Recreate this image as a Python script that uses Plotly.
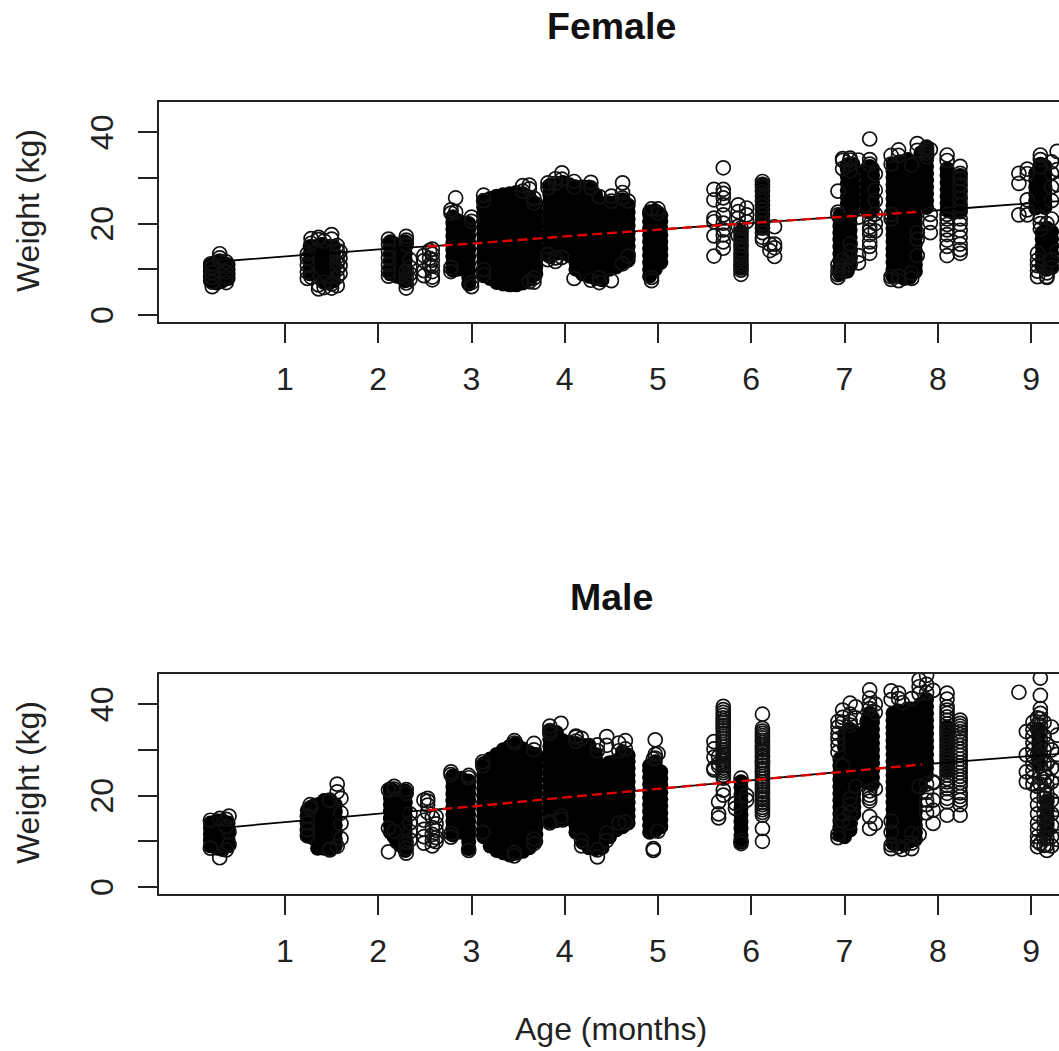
import plotly.graph_objects as go

# Tick and text content
x_ticks = [1, 2, 3, 4, 5, 6, 7, 8, 9]
y_ticks = [0, 10, 20, 30, 40]
y_tick_text = ["0", "", "20", "", "40"]
panel_titles = ["Female", "Male"]
x_label = "Age (months)"
y_label = "Weight (kg)"

# Trend lines
line_age = [0.3, 0.48, 1.18, 1.66, 2.04, 2.53, 3.0, 4.0, 5.05, 5.7, 6.92, 7.83, 8.31, 8.88, 9.35]
f_line_weight = [11.7, 12.0, 13.1, 13.8, 14.4, 15.0, 15.6, 17.2, 18.8, 19.7, 21.4, 22.6, 23.4, 24.3, 25.0]
m_line_weight = [12.9, 13.2, 14.5, 15.4, 16.1, 16.8, 17.6, 19.6, 21.6, 22.9, 25.1, 26.8, 27.6, 28.5, 29.2]
fit_age = [2.53, 3.0, 4.0, 5.05, 5.7, 6.92, 7.83]
f_fit_weight = [15.0, 15.6, 17.2, 18.8, 19.7, 21.4, 22.6]
m_fit_weight = [16.8, 17.6, 19.6, 21.6, 22.9, 25.1, 26.8]

# Female: heavily overplotted mass, one weight list per age column
f_core_age = [0.2, 0.27, 0.33, 0.39, 1.27, 1.33, 1.4, 1.47, 1.52, 2.13, 2.17, 2.2, 2.25, 2.29, 2.8, 2.85, 2.89, 2.97,
              3.13, 3.2, 3.27, 3.34, 3.41, 3.48, 3.55, 3.62, 3.69,
              3.84, 3.91, 3.98, 4.05, 4.12, 4.19, 4.26, 4.33, 4.4,
              4.48, 4.55, 4.62, 4.68, 4.91, 4.97, 5.03, 5.89, 6.12,
              6.95, 7.0, 7.06, 7.03, 7.09, 7.06, 7.24, 7.27, 7.3, 7.52, 7.58, 7.64, 7.7, 7.76,
              7.52, 7.58, 7.6, 7.68, 7.76, 7.82, 7.88, 8.1, 8.17, 8.24, 9.05, 9.1, 9.15, 9.12, 9.17, 9.22, 7.03]
f_core_weight = [
    [7.5, 8.5, 9.5, 10.5, 11.2], [7, 8, 9, 10, 11, 11.6], [7.5, 8.5, 9.5, 10.5, 11.5], [8, 9, 10, 11],
    [9, 10.5, 12, 13.5, 15], [9, 10.5, 12, 13.5, 15], [7.5, 9, 10.5, 12, 13.5, 15.5], [7, 8.5, 10, 11.5, 13, 15], [7.5, 9, 10.5, 12, 13.5, 15],
    [9, 10.5, 12, 13.5, 15, 16], [9, 10.4, 11.8, 13.2, 14.6, 15.6], [8.5, 10, 11.5, 13, 14.5], [8.2, 9.7, 11.2, 12.7, 14.2, 15.4], [7.5, 9, 10.5, 12, 13.5, 15, 16],
    [9.8, 11.3, 12.8, 14.3, 15.8, 17.3, 18.8, 20.2, 21.5], [10, 11.5, 13, 14.5, 16, 17.5, 19, 20.6], [10.2, 11.7, 13.2, 14.7, 16.2, 17.7, 19.2, 20.3],
    [6.8, 8.3, 9.8, 11.3, 12.8, 14.3, 15.8, 17.3, 18.8, 20],
    [8.6, 10.1, 11.6, 13.1, 14.6, 16.1, 17.6, 19.1, 20.6, 22.1, 23.6, 25],
    [8, 9.5, 11, 12.5, 14, 15.5, 17, 18.5, 20, 21.5, 23, 24.5, 25.5],
    [7.1, 8.6, 10.1, 11.6, 13.1, 14.6, 16.1, 17.6, 19.1, 20.6, 22.1, 23.6, 25.1, 26],
    [6.8, 8.3, 9.8, 11.3, 12.8, 14.3, 15.8, 17.3, 18.8, 20.3, 21.8, 23.3, 24.8, 26.3],
    [6.6, 8.1, 9.6, 11.1, 12.6, 14.1, 15.6, 17.1, 18.6, 20.1, 21.6, 23.1, 24.6, 26.1, 26.5],
    [6.6, 8.1, 9.6, 11.1, 12.6, 14.1, 15.6, 17.1, 18.6, 20.1, 21.6, 23.1, 24.6, 26.1, 26.8],
    [7, 8.5, 10, 11.5, 13, 14.5, 16, 17.5, 19, 20.5, 22, 23.5, 25, 26.5],
    [7.8, 9.3, 10.8, 12.3, 13.8, 15.3, 16.8, 18.3, 19.8, 21.3, 22.8, 24.3, 25.8],
    [9, 10.5, 12, 13.5, 15, 16.5, 18, 19.5, 21, 22.5, 24.3],
    [12.8, 14.3, 15.8, 17.3, 18.8, 20.3, 21.8, 23.3, 24.8, 26.3, 27.8, 28.3],
    [13.5, 15, 16.5, 18, 19.5, 21, 22.5, 24, 25.5, 27, 28.4],
    [13.5, 15, 16.5, 18, 19.5, 21, 22.5, 24, 25.5, 27, 28.5, 29],
    [13, 14.5, 16, 17.5, 19, 20.5, 22, 23.5, 25, 26.5, 28, 28.5],
    [10, 11.5, 13, 14.5, 16, 17.5, 19, 20.5, 22, 23.5, 25, 26.5, 28],
    [9, 10.5, 12, 13.5, 15, 16.5, 18, 19.5, 21, 22.5, 24, 25.5, 27, 28],
    [8.5, 10, 11.5, 13, 14.5, 16, 17.5, 19, 20.5, 22, 23.5, 25, 26.5, 28],
    [8, 9.5, 11, 12.5, 14, 15.5, 17, 18.5, 20, 21.5, 23, 24.5, 26.3],
    [7.7, 9.2, 10.7, 12.2, 13.7, 15.2, 16.7, 18.2, 19.7, 21.2, 22.7, 24.4],
    [10, 11.5, 13, 14.5, 16, 17.5, 19, 20.5, 22, 23.5, 24.5], [10.5, 12, 13.5, 15, 16.5, 18, 19.5, 21, 22.5, 24, 24.6],
    [11.5, 13, 14.5, 16, 17.5, 19, 20.5, 22, 23.5, 25.2], [12, 13.5, 15, 16.5, 18, 19.5, 21, 22.5, 24],
    [8.5, 10, 11.5, 13, 14.5, 16, 17.5, 19, 20.5, 22, 22.6], [10, 11.5, 13, 14.5, 16, 17.5, 19, 20.5, 22, 22.8],
    [11.5, 13, 14.5, 16, 17.5, 19, 20.5, 21.8],
    [10.2, 11.8, 13.4, 15, 16.6, 18.2], [19.2, 20.8, 22.4, 24, 25.6, 27.2, 28.6],
    [9, 10.5, 12, 13.5, 15, 16.5, 18, 19.5, 21, 21.8], [9.5, 11, 12.5, 14, 15.5, 17, 18.5, 20, 21.4], [11, 12.5, 14, 15.5, 17, 18.5, 20, 21.5],
    [22.8, 24.3, 25.8, 27.3, 28.8, 30.3, 31.8, 32.8], [22.6, 24.1, 25.6, 27.1, 28.6, 30.1, 31.6, 33], [23, 24.5, 26, 27.5, 29, 30.5, 32],
    [23, 24.5, 26, 27.5, 29, 30.5, 32], [22.5, 24, 25.5, 27, 28.5, 30, 31.5, 32.5], [23, 24.5, 26, 27.5, 29, 30.5, 32],
    [8.5, 10, 11.5, 13, 14.5, 16, 17.5, 19, 20.5], [9, 10.5, 12, 13.5, 15, 16.5, 18, 19.5, 21],
    [8, 9.5, 11, 12.5, 14, 15.5, 17, 18.5, 20, 21.5], [8.2, 9.7, 11.2, 12.7, 14.2, 15.7, 17.2, 18.7, 20.2],
    [9.5, 11, 12.5, 14, 15.5, 17, 18.5, 20, 21.5],
    [22.5, 24, 25.5, 27, 28.5, 30, 31.5, 33], [22.6, 24.1, 25.6, 27.1, 28.6, 30.1, 31.6, 33.4],
    [23, 24.5, 26, 27.5, 29, 30.5, 32, 33.5], [23.5, 25, 26.5, 28, 29.5, 31, 32.5, 34], [22.8, 24.3, 25.8, 27.3, 28.8, 30.3, 31.8, 33.3],
    [24, 25.5, 27, 28.5, 30, 31.5, 33, 34.5, 35.5], [23.5, 25, 26.5, 28, 29.5, 31, 32.5, 34, 35.5, 36.5],
    [23, 24.5, 26, 27.5, 29, 30.5, 32], [22.5, 24, 25.5, 27, 28.5, 30], [23, 24.5, 26, 27.5, 29, 30.5],
    [23.4, 25, 26.5, 28, 29.5, 31], [24, 25.5, 27, 28.5, 30, 31.5, 33], [23.5, 25, 26.5, 28, 29.5, 31, 32.5],
    [10.5, 12, 13.5, 15, 16.5, 18], [10, 11.5, 13, 14.5, 16, 17.5, 19], [10.4, 12, 13.4, 15, 16.6, 18.2],
    [9.6, 11.1, 12.6, 14.1, 15.6, 17.1, 18.6, 20.1, 21.4],
]

# Female: individually visible open circles
f_ring_age = [0.22, 0.3, 0.37, 1.24, 1.28, 1.36, 1.42, 1.5, 1.56, 1.59, 2.11, 2.3, 2.34,
              2.49, 2.55, 2.58, 2.78, 2.83, 3.0, 3.13, 3.67, 3.55, 3.62, 3.82, 3.9, 3.97, 4.1, 4.28, 4.37,
              4.5, 4.62, 4.68, 4.93, 5.0, 5.6, 5.7, 5.86, 5.89, 5.95, 6.12, 6.2, 6.25,
              6.93, 6.98, 7.06, 7.15, 7.27, 7.33, 7.5, 7.58, 7.72, 7.78, 7.88, 7.92, 8.1, 8.24,
              8.87, 8.96, 9.07, 9.1, 9.17, 9.22, 9.28]
f_ring_weight = [
    [6.2, 7.2, 8.2, 9.3, 10.4, 11.2], [13.4, 12.5, 11.8], [7.1, 8.2, 9.4, 10.6, 11.6],
    [8, 9.4, 10.9, 12.4, 13.4], [15.7, 16.7, 8.3], [5.7, 6.6, 16.5, 17], [6, 7.2, 16.2], [5.9, 6.8, 17.6, 16.6], [6.4, 8.3, 9.9, 11.4, 12.7, 14, 15.2], [9.1, 10.8, 12.4, 13.9],
    [8.5, 9.6, 11, 12.5, 14, 15.5, 16.6], [5.9, 7, 8.2, 9.6, 15.4, 16.4, 17.2], [7.8, 9, 10.4, 12.1],
    [8.6, 9.7, 11.9, 13], [14.1, 12.4, 10.8], [7.7, 8.3, 9.5, 10.7, 12, 13.3, 14.4],
    [9.5, 10.4, 22.3, 23], [25.6, 22.5], [6.2, 7.1, 21.4, 20.5], [26.2, 25, 9.9, 8.8], [7.2, 8.1, 24.5, 25.5], [28.3, 27.1], [28.4, 27.6, 7.3], [28.9, 27.8, 12.1, 13.2], [29.8, 28.8, 11.7, 12.5], [31.1, 29.7, 12.6], [8, 29.2, 28], [29, 27.8, 7.6], [7.1, 8.1, 25.9],
    [26, 24.9, 7.5], [28.9, 26.8, 25.6, 11.2], [24.9, 12.9], [8.2, 7.5, 23.2], [23.2, 22.3],
    [27.5, 25.2, 21.2, 20.4, 17.3, 12.9], [32.2, 27.5, 26.6, 25.6, 24.1, 21.9, 20.1, 18.6, 17.5, 16, 14.6],
    [24.1, 22.6, 21.2, 19.4, 17.4], [19, 18, 17.2, 16.2, 15.2, 14.2, 13.1, 12.3, 11.2, 10.6, 9.8, 8.9], [23.4, 21.9, 20.4],
    [29.2, 28.6, 28, 27, 26, 25, 24, 23, 22, 21, 20, 19, 18, 17, 16.4], [14.1, 15.5], [19.3, 15.5, 12.8, 14.7],
    [8.2, 8.8, 9.8, 11, 21.9, 22.5, 27.1], [32, 33.8, 34.2, 9.8, 10.6, 12], [33.9, 34.3, 33, 31.5, 11, 12.6, 14.1, 15.6], [33.9, 21.4, 11.4, 13],
    [38.5, 34, 33, 21, 19.2, 17.6, 16, 13.5, 15, 18.5], [30.9, 27.3, 25, 22.1, 20, 18.4],
    [34.9, 33, 22, 21, 8.4, 7.8], [36.1, 34.9, 7.5, 8.5], [32.8, 9.2, 8], [37.5, 36, 16.6, 13, 18], [36.7, 36, 35.4, 34.6],
    [18, 20.2, 36.2, 22], [35, 33.8, 22, 21, 19.8, 18.6, 17.6, 16.4, 15, 13],
    [32.5, 31, 29.8, 28.4, 27, 25.5, 24, 22.6, 21, 19.9, 18.5, 17, 15.5, 14.3, 13.5],
    [28.8, 21.9, 31], [31.9, 30.9, 21.9, 23, 25.2], [13.5, 12, 10.8, 9.6, 8.4], [35, 34, 32.4, 21.4, 20, 18.8], [20, 9.2, 8.2, 8.4], [33.5, 31, 28, 25, 21, 12.1, 10.4], [35.8, 31.8, 28.5, 14],
]

# Male: heavily overplotted mass, one weight list per age column
m_core_age = [0.2, 0.27, 0.33, 0.39, 1.28, 1.35, 1.42, 1.49, 1.54, 2.13, 2.17, 2.2, 2.25, 2.29, 2.8, 2.89, 2.97,
              3.13, 3.2, 3.27, 3.34, 3.41, 3.48, 3.55, 3.62, 3.69,
              3.84, 3.91, 3.98, 4.05, 4.12, 4.19, 4.26, 4.33, 4.4,
              4.48, 4.55, 4.62, 4.68, 4.91, 4.97, 5.03,
              5.89, 6.95, 7.0, 7.06, 7.1, 7.24, 7.27, 7.3, 7.52, 7.58, 7.64, 7.7, 7.76, 7.82, 7.88, 8.1, 9.08, 9.17, 1.24, 1.31]
m_core_weight = [
    [9, 10.3, 11.6, 12.9, 14], [8.5, 9.8, 11.1, 12.4, 13.7, 14.5], [8.2, 9.5, 10.8, 12.1, 13.4, 14.5], [9, 10.3, 11.6, 12.9, 14],
    [11, 12.5, 14, 15.5, 17], [8.5, 10.4, 12, 13.5, 15, 16.5, 18], [8.5, 10, 11.5, 13, 14.5, 16, 17.5, 18.9], [8.2, 9.7, 11.2, 12.7, 14.2, 15.7, 17.2, 18.7], [9, 10.5, 12, 13.5, 15, 16.5, 18],
    [12, 13.5, 15, 16.5, 18, 19.5, 21, 21.5], [11, 12.5, 14, 15.5, 17, 18.5, 20, 21], [9.8, 11.3, 12.8, 14.3, 15.8, 17.3, 18.8, 20.3], [9, 10.5, 12, 13.5, 15, 16.5, 18, 19.5], [8, 9.5, 11, 12.5, 14, 15.5, 17, 18.5, 20, 21],
    [11.4, 12.9, 14.4, 15.9, 17.4, 18.9, 20.4, 21.9, 23.4, 24.3], [12, 13.5, 15, 16.5, 18, 19.5, 21, 22.5, 23.8],
    [8.4, 9.9, 11.4, 12.9, 14.4, 15.9, 17.4, 18.9, 20.4, 21.9, 23.2],
    [11, 12.5, 14, 15.5, 17, 18.5, 20, 21.5, 23, 24.5, 26, 27],
    [9, 10.5, 12, 13.5, 15, 16.5, 18, 19.5, 21, 22.5, 24, 25.5, 27, 28],
    [8, 9.5, 11, 12.5, 14, 15.5, 17, 18.5, 20, 21.5, 23, 24.5, 26, 27.5, 29],
    [7.5, 9, 10.5, 12, 13.5, 15, 16.5, 18, 19.5, 21, 22.5, 24, 25.5, 27, 28.5, 30],
    [7, 8.5, 10, 11.5, 13, 14.5, 16, 17.5, 19, 20.5, 22, 23.5, 25, 26.5, 28, 29.5, 30.8],
    [7.4, 8.9, 10.4, 11.9, 13.4, 14.9, 16.4, 17.9, 19.4, 20.9, 22.4, 23.9, 25.4, 26.9, 28.4, 29.9, 31.4],
    [7.8, 9.3, 10.8, 12.3, 13.8, 15.3, 16.8, 18.3, 19.8, 21.3, 22.8, 24.3, 25.8, 27.3, 28.8, 30.2],
    [8.6, 10.1, 11.6, 13.1, 14.6, 16.1, 17.6, 19.1, 20.6, 22.1, 23.6, 25.1, 26.6, 28.1, 29.4],
    [10, 11.5, 13, 14.5, 16, 17.5, 19, 20.5, 22, 23.5, 25, 26.5, 28, 29],
    [14.3, 15.8, 17.3, 18.8, 20.3, 21.8, 23.3, 24.8, 26.3, 27.8, 29.3, 30.8, 32.3, 34],
    [14.5, 16, 17.5, 19, 20.5, 22, 23.5, 25, 26.5, 28, 29.5, 31, 32.5, 33.8],
    [14.6, 16.1, 17.6, 19.1, 20.6, 22.1, 23.6, 25.1, 26.6, 28.1, 29.6, 31.1, 32],
    [15, 16.5, 18, 19.5, 21, 22.5, 24, 25.5, 27, 28.5, 30, 31.6],
    [12, 13.5, 15, 16.5, 18, 19.5, 21, 22.5, 24, 25.5, 27, 28.5, 30, 31.4],
    [9.8, 11.3, 12.8, 14.3, 15.8, 17.3, 18.8, 20.3, 21.8, 23.3, 24.8, 26.3, 27.8, 29.3, 31],
    [8.6, 10.1, 11.6, 13.1, 14.6, 16.1, 17.6, 19.1, 20.6, 22.1, 23.6, 25.1, 26.6, 28.1, 29.6, 31],
    [8.4, 9.9, 11.4, 12.9, 14.4, 15.9, 17.4, 18.9, 20.4, 21.9, 23.4, 24.9, 26.4, 27.9, 29],
    [8.6, 10.1, 11.6, 13.1, 14.6, 16.1, 17.6, 19.1, 20.6, 22.1, 23.6, 25.1, 26.4],
    [11, 12.5, 14, 15.5, 17, 18.5, 20, 21.5, 23, 24.5, 26, 27.2], [12.5, 14, 15.5, 17, 18.5, 20, 21.5, 23, 24.5, 26, 27.6],
    [13.2, 14.7, 16.2, 17.7, 19.2, 20.7, 22.2, 23.7, 25.2, 26.7, 28.2, 29.6], [14, 15.5, 17, 18.5, 20, 21.5, 23, 24.5, 26, 27.5, 28.8],
    [12, 13.5, 15, 16.5, 18, 19.5, 21, 22.5, 24, 25.5, 26.5], [12.3, 13.8, 15.3, 16.8, 18.3, 19.8, 21.3, 22.8, 24.3, 25.8, 27.4],
    [13.2, 14.7, 16.2, 17.7, 19.2, 20.7, 22.2, 23.7, 25.2],
    [9.8, 11.3, 12.8, 14.3, 15.8, 17.3, 18.8, 20.3, 21.8, 23],
    [11.5, 13, 14.5, 16, 17.5, 19, 20.5, 22, 23.5, 25, 26.5, 28], [11, 12.5, 14, 15.5, 17, 18.5, 20, 21.5, 23, 24.5, 26, 27.5, 29, 30.5, 32, 33.5],
    [12.5, 14, 15.5, 17, 18.5, 20, 21.5, 23, 24.5, 26, 27.5, 29, 30.5, 32, 33.5, 34.5], [16, 17.5, 19, 20.5, 22, 23.5, 25, 26.5, 28, 29.5, 31, 32.5, 34],
    [22.8, 24.3, 25.8, 27.3, 28.8, 30.3, 31.8, 33.3, 34.8, 36.3], [23, 24.5, 26, 27.5, 29, 30.5, 32, 33.5, 35, 36.5, 38], [22.5, 24, 25.5, 27, 28.5, 30, 31.5, 33, 34.5, 36, 37],
    [9.5, 11, 12.5, 14, 15.5, 17, 18.5, 20, 21.5, 23, 24.5, 26, 27.5, 29, 30.5, 32, 33.5, 35, 36.5, 38],
    [9.5, 11, 12.5, 14, 15.5, 17, 18.5, 20, 21.5, 23, 24.5, 26, 27.5, 29, 30.5, 32, 33.5, 35, 36.5, 38.5],
    [9.2, 10.7, 12.2, 13.7, 15.2, 16.7, 18.2, 19.7, 21.2, 22.7, 24.2, 25.7, 27.2, 28.7, 30.2, 31.7, 33.2, 34.7, 36.2, 38],
    [10, 11.5, 13, 14.5, 16, 17.5, 19, 20.5, 22, 23.5, 25, 26.5, 28, 29.5, 31, 32.5, 34, 35.5, 37, 39],
    [10.4, 11.9, 13.4, 14.9, 16.4, 17.9, 19.4, 20.9, 22.4, 23.9, 25.4, 26.9, 28.4, 29.9, 31.4, 32.9, 34.4, 35.9, 37.4, 39],
    [22, 23.5, 25, 26.5, 28, 29.5, 31, 32.5, 34, 35.5, 37, 38.5, 40], [24.5, 26, 27.5, 29, 30.5, 32, 33.5, 35, 36.5, 38, 39.5, 41],
    [25.5, 27.2, 28.8, 30.4, 32, 33.5, 35], [27, 28.5, 30, 31.5, 33, 34.5], [12.5, 14, 15.5, 17, 18.5],
    [11.2, 12.6, 14, 15.4, 16.8], [10.6, 12, 13.5, 15, 16.5, 17.8],
]

# Male: individually visible open circles
m_ring_age = [0.2, 0.3, 0.37, 0.4, 1.24, 1.27, 1.48, 1.56, 1.6, 2.11, 2.17, 2.3, 2.34,
              2.49, 2.53, 2.58, 2.62, 2.78, 2.97, 3.12, 3.46, 3.67, 3.84, 3.96, 4.12, 4.18, 4.35, 4.45,
              4.58, 4.65, 4.95, 4.97, 5.0, 5.6, 5.65, 5.7, 5.83, 5.89, 5.95, 6.12,
              6.93, 6.98, 7.06, 7.12, 7.27, 7.33, 7.5, 7.58, 7.62, 7.72, 7.8, 7.88, 7.95, 8.1, 8.24,
              8.87, 8.95, 9.02, 9.07, 9.1, 9.14, 9.17, 9.22, 9.28]
m_ring_weight = [
    [8.5, 14.6], [6.4, 15], [8.1, 14.8, 13.2], [15.5, 9.3, 12],
    [11.2, 12.5, 14, 15.5], [17.3, 18], [8.1, 8.3, 19], [22.5, 20.8, 8.9], [19.4, 13.9, 10.6, 16.2],
    [7.7, 12.9, 21.2], [21.4, 22, 12.2], [7.4, 8.5, 9.8, 21.3, 20.5], [10.3, 12.1, 14, 16],
    [9.6, 11, 12.6, 14.6, 19], [19.4, 17.9, 18.8, 16.3], [9, 10.2, 11.5, 13, 15.2], [9.9, 10.8, 12.4, 13.8, 15.4],
    [25.2, 24.6, 10.9, 11.7], [8, 24.4, 23.9], [27.4, 26.5, 12], [6.8, 7.5, 32, 31.5], [31.4, 9.5, 10.5, 30],
    [35.2, 34.2, 33.6, 14.3, 14], [35.8, 14.8, 15.5], [33, 32.8, 31.9], [32.5, 10.2, 9], [6.6, 8.1, 31.1, 29.8], [32.9, 31, 11.8, 10.2], [31.5, 29.8, 14], [32, 30.2, 14.2],
    [8.4, 8, 28], [32.2, 29, 28.2], [29.2, 12.2], [31.8, 30.2, 28.4, 26, 25.6], [27, 28.5, 26.4, 18.6, 15.1, 16],
    [39.5, 38.8, 38.2, 37.6, 37, 36.4, 35.9, 35.3, 34.8, 34.2, 33.6, 33, 32.4, 31.8, 31.2, 30.6, 30, 29.5, 29, 28.5, 28, 27.5, 27, 26.5, 26, 25.5, 25, 24.4, 23.8, 21.2, 20.1],
    [18.3, 17.2], [23.8, 9.5, 10.2], [19, 20],
    [37.8, 34.7, 34.1, 33.6, 33.1, 32.6, 32.1, 31.6, 31, 30.5, 30, 29.4, 28.8, 28.3, 27.7, 27.2, 26.6, 26, 25.4, 24.8, 24.2, 23.6, 23, 22.5, 22, 21.4, 20.8, 20.2, 19.6, 19.1, 18.5, 18, 17.4, 16.9, 16.3, 15.7, 12.8, 10],
    [36.2, 35, 33.6, 32.4, 31, 29.5, 10.8, 11.6], [38.7, 37.1, 36, 26.5, 16, 14.5], [40.2, 36.2, 37.8, 35.4, 14, 16.2, 18, 19.4], [39.4, 37, 22],
    [43.1, 41.3, 40, 39, 21, 20.1, 19.4, 15.4, 12.8, 18.8], [13.9, 40, 38.2, 21.5],
    [42.9, 41, 8.4, 9.2, 14.4, 12], [42.4, 41.2, 8.8], [40.3, 8.2], [8.4, 9.6, 41.2, 11.7], [45.3, 43.8, 42.3, 22, 11.5], [46.3, 44.3, 42.5, 22.5, 20.7, 19, 16.2, 18], [43, 23, 19, 13.9, 16.8, 22.8],
    [42.4, 41.1, 39.4, 38.7, 38, 37.2, 36.5, 35.7, 35, 34.2, 33.5, 32.7, 32, 31.2, 30.5, 29.7, 29, 28.2, 27.5, 26.7, 26, 25.2, 24.5, 23.7, 23, 22.2, 21.5, 20.5, 19.4, 18.6, 15.7],
    [36.5, 35.8, 35.2, 34.6, 34, 33.3, 32.6, 31.8, 31, 30.2, 29.5, 28.8, 28, 27.2, 26.5, 25.8, 25, 24.2, 23.5, 22.8, 22, 20.6, 19.8, 15.7, 19, 18],
    [42.6], [28.9, 34, 25.2, 23], [36, 34.5, 33, 31.5, 30, 28.6, 27, 25.5, 24, 22.5], [22, 20, 18, 16, 14, 12.6, 11, 8.8, 10, 34.5, 37, 35.5, 29],
    [45.7, 41.9, 39, 38, 36.8, 35.4, 34, 32.5, 31, 29.5, 28, 26.5, 24, 22.5, 9.5], [9.1, 10.8, 12.5, 14.5, 16.2, 18, 19.5, 21, 23, 25, 27, 30, 33, 36],
    [8, 9.2, 10.6, 12, 13.6, 15.2, 17, 18.8, 20.5, 22.2, 31.2, 27, 24], [9, 11, 13.5, 16, 19, 23, 26, 30, 35], [10.4, 14, 18, 21, 25.5, 29, 33.2],
]


def flatten(ages, weights):
    xs, ys = [], []
    for age, column in zip(ages, weights):
        xs.extend([age] * len(column))
        ys.extend(column)
    return xs, ys


INK = "#111111"
fig = go.Figure()
panels = [
    ("", "", f_core_age, f_core_weight, f_ring_age, f_ring_weight, f_line_weight, f_fit_weight),
    ("2", "2", m_core_age, m_core_weight, m_ring_age, m_ring_weight, m_line_weight, m_fit_weight),
]
for xs, ys, core_age, core_w, ring_age, ring_w, line_w, fit_w in panels:
    xa, ya = "x" + xs, "y" + ys
    cx, cy = flatten(core_age, core_w)
    fig.add_trace(go.Scatter(x=cx, y=cy, xaxis=xa, yaxis=ya, mode="markers", showlegend=False,
                             marker=dict(symbol="circle", size=15, color="black", line=dict(width=0))))
    rx, ry = flatten(ring_age, ring_w)
    fig.add_trace(go.Scatter(x=rx, y=ry, xaxis=xa, yaxis=ya, mode="markers", showlegend=False,
                             marker=dict(symbol="circle-open", size=14, color=INK, line=dict(width=1.7, color=INK))))
    fig.add_trace(go.Scatter(x=line_age, y=line_w, xaxis=xa, yaxis=ya, mode="lines", showlegend=False,
                             line=dict(color="black", width=1.8)))
    fig.add_trace(go.Scatter(x=fit_age, y=fit_w, xaxis=xa, yaxis=ya, mode="lines", showlegend=False,
                             line=dict(color="#e00000", width=2.4, dash="10px,5px")))

H = 1051
W = 1059
label_font = dict(family="Liberation Sans", size=32, color="#222222")
title_font = dict(family="Liberation Sans", size=37.5, color="#111111", weight="bold")

xaxis_style = dict(range=[-0.351, 9.30], tickmode="array", tickvals=x_ticks, ticktext=[str(t) for t in x_ticks],
                   ticks="outside", ticklen=19, tickwidth=1.6, tickcolor="#222222", showgrid=False, zeroline=False,
                   showline=True, linecolor="#222222", linewidth=1.6, mirror=True, tickfont=label_font,
                   ticklabelstandoff=9)
yaxis_style = dict(range=[-1.53, 46.7], tickmode="array", tickvals=y_ticks, showticklabels=False,
                   ticks="outside", ticklen=19, tickwidth=1.6, tickcolor="#222222", showgrid=False, zeroline=False,
                   showline=True, linecolor="#222222", linewidth=1.6)

fig.update_layout(
    width=W, height=H, margin=dict(l=159, r=0, t=0, b=0, pad=0), paper_bgcolor="white", plot_bgcolor="white",
    showlegend=False,
    xaxis=dict(domain=[0, 1], anchor="y", **xaxis_style),
    yaxis=dict(domain=[1 - 322 / H, 1 - 101.5 / H], anchor="x", **yaxis_style),
    xaxis2=dict(domain=[0, 1], anchor="y2", **xaxis_style),
    yaxis2=dict(domain=[1 - 894 / H, 1 - 673.5 / H], anchor="x2", **yaxis_style),
)


# paper coordinates span the plotting domain, so convert from the page through the left margin
def page_x(px):
    return (px - 159) / (W - 159)


def note(text, px, py, font, angle=0):
    fig.add_annotation(text=text, x=page_x(px), y=1 - py / H, xref="paper", yref="paper", showarrow=False,
                       font=font, textangle=angle, xanchor="center", yanchor="middle")


note(panel_titles[0], 611, 26, title_font)
note(panel_titles[1], 611, 597, title_font)
note(x_label, 611, 1029, label_font)
note(y_label, 28, 211, label_font, -90)
note(y_label, 28, 783, label_font, -90)

# Rotated weight tick labels, centred on their ticks through each panel's y axis
for yref in ["y", "y2"]:
    for value, text in zip(y_ticks, y_tick_text):
        if text:
            fig.add_annotation(text=text, x=page_x(102), y=value, xref="paper", yref=yref, showarrow=False,
                               font=label_font, textangle=-90, xanchor="center", yanchor="middle")

# the page's default body margin would shift the figure away from the window's corner
fig.write_html("out.html", post_script="document.body.style.margin='0';", config={"displayModeBar": False})
